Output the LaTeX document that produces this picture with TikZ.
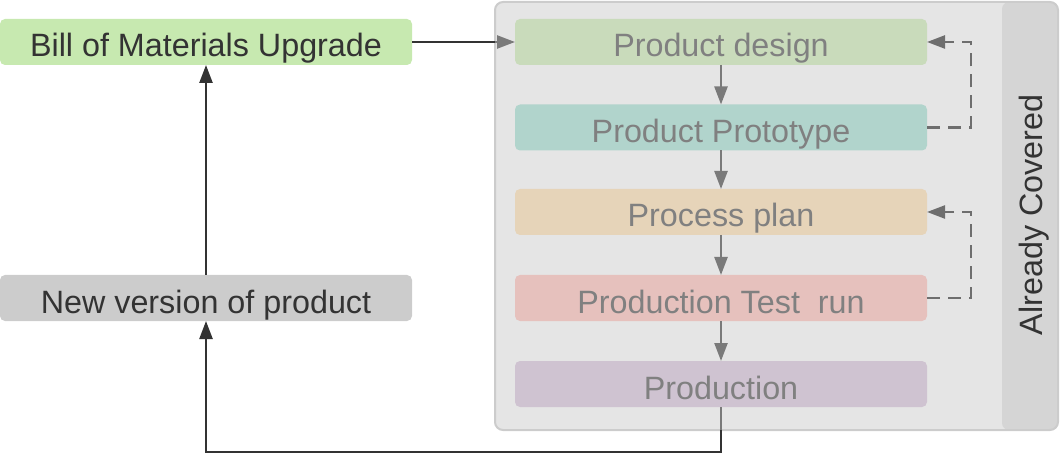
\documentclass[tikz,border=0pt]{standalone}
\usepackage{fontspec}
\setmainfont{Liberation Sans}
\usetikzlibrary{arrows.meta}
\definecolor{bomfill}{HTML}{C7E9B0}
\definecolor{newfill}{HTML}{CCCCCC}
\definecolor{contfill}{HTML}{E5E5E5}
\definecolor{contborder}{HTML}{CCCCCC}
\definecolor{stripfill}{HTML}{D5D5D5}
\definecolor{pdfill}{HTML}{C9DBBB}
\definecolor{ppfill}{HTML}{B1D4CC}
\definecolor{plfill}{HTML}{E6D4B9}
\definecolor{ptfill}{HTML}{E6C1BD}
\definecolor{prfill}{HTML}{CFC3D1}
\definecolor{textdark}{HTML}{333333}
\definecolor{textgrey}{HTML}{808080}
\definecolor{linegrey}{HTML}{7A7A7A}
\definecolor{dashgrey}{HTML}{6E6E6E}
\begin{document}
\begin{tikzpicture}[x=1pt,y=-1pt,
  box/.style={draw=none, rounded corners=5pt, minimum width=412pt, minimum height=46pt,
    inner sep=0pt, outer sep=0pt, text height=32pt, text depth=2pt,
    font=\fontsize{32.3}{38}\selectfont},
  outerbox/.style={box, text=textdark},
  innerbox/.style={box, text=textgrey},
  arr/.style={line width=2.4pt, -{Triangle[length=18pt,width=13pt]}},
  plain/.style={line width=2.4pt},
  dasharr/.style={line width=2.4pt, dash pattern=on 13pt off 8pt, draw=dashgrey,
    -{Triangle[length=18pt,width=13pt]}},
]
\useasboundingbox (0,0) rectangle (1060,454);
% container
\node[fill=contfill, draw=none, rounded corners=8pt, minimum width=563pt, minimum height=428pt,
  inner sep=0pt, outer sep=0pt] (cont) at (776.5,216) {};
\node[fill=stripfill, draw=none, rounded corners=7pt, minimum width=56pt, minimum height=428pt,
  inner sep=0pt, outer sep=0pt] (strip) at (1030,216) {};
\draw[contborder, line width=2pt, rounded corners=8pt] (cont.north west) rectangle (cont.south east);
\node[anchor=base, rotate=90, text=textdark, font=\fontsize{32.3}{38}\selectfont] (ac) at (1042,215) {Already Covered};
% outer boxes
\node[outerbox, fill=bomfill] (bom) at (206,42) {Bill of Materials Upgrade};
\node[outerbox, fill=newfill] (nv) at (206,298) {New version of product};
% inner boxes
\node[innerbox, fill=pdfill] (pd) at (721,42) {Product design};
\node[innerbox, fill=ppfill] (pp) at (721,127.5) {Product Prototype};
\node[innerbox, fill=plfill] (pl) at (721,212) {Process plan};
\node[innerbox, fill=ptfill] (pt) at (721,298) {Production Test\ \ run};
\node[innerbox, fill=prfill] (pr) at (721,384) {Production};
% arrows
\draw[plain, textdark] (bom.east) -- (bom.east -| cont.west);
\draw[arr, linegrey] (bom.east -| cont.west) -- (pd.west);
\draw[arr, linegrey] (pd.south) -- (pp.north);
\draw[arr, linegrey] (pp.south) -- (pl.north);
\draw[arr, linegrey] (pl.south) -- (pt.north);
\draw[arr, linegrey] (pt.south) -- (pr.north);
\coordinate (dx) at (971,0);
\draw[dasharr] (pp.east) -- (pp.east -| dx) -- (pd.east -| dx) -- (pd.east);
\draw[dasharr] (pt.east) -- (pt.east -| dx) -- (pl.east -| dx) -- (pl.east);
\coordinate (bot) at (0,452);
\draw[plain, linegrey] (pr.south) -- (pr.south |- cont.south);
\draw[arr, textdark] (pr.south |- cont.south) -- (pr.south |- bot) -| (nv.south);
\draw[arr, textdark] (nv.north) -- (bom.south);
\end{tikzpicture}
\end{document}
